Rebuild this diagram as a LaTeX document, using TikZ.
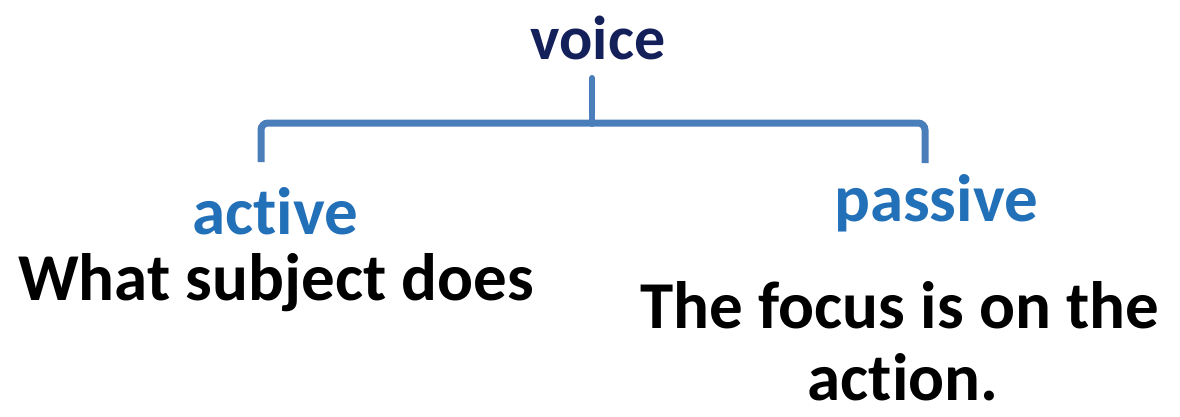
\documentclass[tikz,border=0pt]{standalone}
\usepackage{fontspec}
\setmainfont[RawFeature={-liga;-clig;-dlig}]{Carlito}
\definecolor{navy}{HTML}{14205A}
\definecolor{midblue}{HTML}{2270B8}
\definecolor{bracecol}{HTML}{4A7EBB}
\begin{document}
\begin{tikzpicture}[x=1pt,y=1pt,
  lbl/.style={inner sep=0pt,font=\bfseries\fontsize{67}{72}\selectfont},
  head/.style={lbl,text=navy,font=\bfseries\fontsize{62}{66}\selectfont},
  kind/.style={lbl,text=midblue},
  desc/.style={lbl,text=black,align=center},
  bracepath/.style={draw=bracecol,line width=7pt,rounded corners=7pt}]
\useasboundingbox (0,0) rectangle (1180,416);
\fill[white] (0,0) rectangle (1180,416);
\node[head,anchor=base] (voice) at (598,356) {voice};
\node[kind,anchor=base] (active) at (275,182) {active};
\node[kind,anchor=base] (passive) at (936,195) {passive};
\node[desc,anchor=base] (what) at (276,116) {What subject does};
\node[desc,anchor=base] (focus) at (900,88) {The focus is on the};
\node[desc,anchor=base,text depth=0pt] (action) at (903,16) {action.};
\coordinate (tip) at (592,338);
\coordinate (lft) at (261,254);
\coordinate (rgt) at (925,253);
\draw[bracepath] (lft) |- (592,293) -| (rgt);
\draw[draw=bracecol,line width=6pt,line cap=round] (592,292) -- (tip);
\end{tikzpicture}
\end{document}
